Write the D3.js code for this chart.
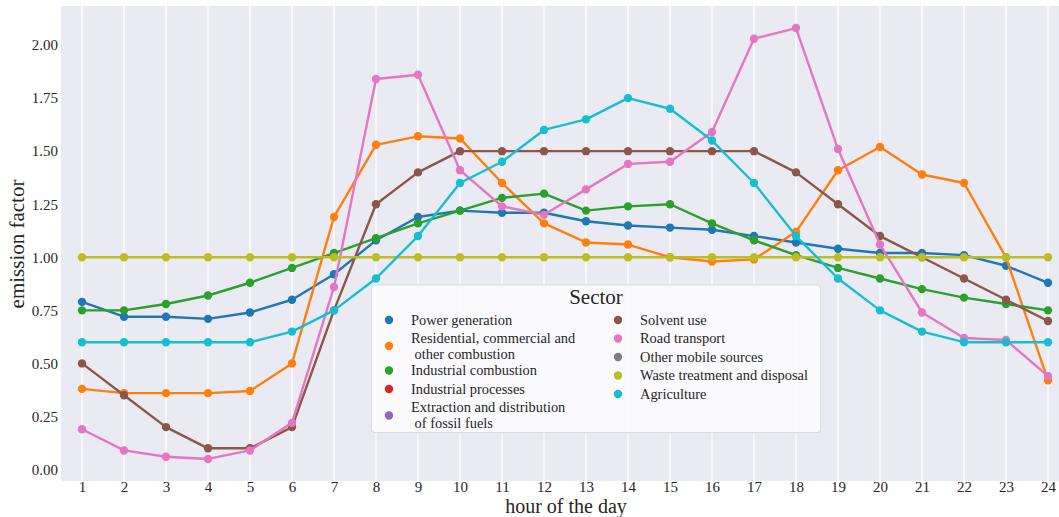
<!DOCTYPE html>
<html>
<head>
<meta charset="utf-8">
<script src="https://cdn.jsdelivr.net/npm/d3@7"></script>
<style>
  html, body { margin: 0; padding: 0; background: #ffffff; }
  svg text { font-family: "Liberation Serif", "DejaVu Serif", serif; fill: #262626; }
</style>
</head>
<body>
<svg id="chart" width="1059" height="517"></svg>
<script>
// Hourly emission factors per sector
const hours = d3.range(1, 25);

const powerGeneration = [0.79, 0.72, 0.72, 0.71, 0.74, 0.80, 0.92, 1.08, 1.19, 1.22, 1.21, 1.21,
                         1.17, 1.15, 1.14, 1.13, 1.10, 1.07, 1.04, 1.02, 1.02, 1.01, 0.96, 0.88];
const residential     = [0.38, 0.36, 0.36, 0.36, 0.37, 0.50, 1.19, 1.53, 1.57, 1.56, 1.35, 1.16,
                         1.07, 1.06, 1.00, 0.98, 0.99, 1.12, 1.41, 1.52, 1.39, 1.35, 1.00, 0.42];
const industrialComb  = [0.75, 0.75, 0.78, 0.82, 0.88, 0.95, 1.02, 1.09, 1.16, 1.22, 1.28, 1.30,
                         1.22, 1.24, 1.25, 1.16, 1.08, 1.01, 0.95, 0.90, 0.85, 0.81, 0.78, 0.75];
const solventUse      = [0.50, 0.35, 0.20, 0.10, 0.10, 0.20, 0.75, 1.25, 1.40, 1.50, 1.50, 1.50,
                         1.50, 1.50, 1.50, 1.50, 1.50, 1.40, 1.25, 1.10, 1.00, 0.90, 0.80, 0.70];
const roadTransport   = [0.19, 0.09, 0.06, 0.05, 0.09, 0.22, 0.86, 1.84, 1.86, 1.41, 1.24, 1.20,
                         1.32, 1.44, 1.45, 1.59, 2.03, 2.08, 1.51, 1.06, 0.74, 0.62, 0.61, 0.44];
const wasteTreatment  = [1.00, 1.00, 1.00, 1.00, 1.00, 1.00, 1.00, 1.00, 1.00, 1.00, 1.00, 1.00,
                         1.00, 1.00, 1.00, 1.00, 1.00, 1.00, 1.00, 1.00, 1.00, 1.00, 1.00, 1.00];
const agriculture     = [0.60, 0.60, 0.60, 0.60, 0.60, 0.65, 0.75, 0.90, 1.10, 1.35, 1.45, 1.60,
                         1.65, 1.75, 1.70, 1.55, 1.35, 1.10, 0.90, 0.75, 0.65, 0.60, 0.60, 0.60];

// Legend entries (sector label lines) in hue order
const sectorLabels = [
  ["Power generation"],
  ["Residential, commercial and", "\u00a0other combustion"],
  ["Industrial combustion"],
  ["Industrial processes"],
  ["Extraction and distribution", "\u00a0of fossil fuels"],
  ["Solvent use"],
  ["Road transport"],
  ["Other mobile sources"],
  ["Waste treatment and disposal"],
  ["Agriculture"]
];
const sectorColors = ["#1f77b4", "#ff7f0e", "#2ca02c", "#d62728", "#9467bd",
                      "#8c564b", "#e377c2", "#7f7f7f", "#bcbd22", "#17becf"];

// Sectors with hourly values, drawn in hue order
const seriesList = [
  { sector: 0, values: powerGeneration },
  { sector: 1, values: residential },
  { sector: 2, values: industrialComb },
  { sector: 5, values: solventUse },
  { sector: 6, values: roadTransport },
  { sector: 8, values: wasteTreatment },
  { sector: 9, values: agriculture }
];

const yTicks = [0, 0.25, 0.5, 0.75, 1.0, 1.25, 1.5, 1.75, 2.0];

const svg = d3.select("#chart");
const plot = { left: 61, top: 6, bottom: 481, right: 1069 };

const x = d3.scaleLinear().domain([0.5, 24.5]).range([plot.left, plot.right]);
const y = d3.scaleLinear().domain([-0.054, 2.184]).range([plot.bottom, plot.top]);

svg.append("defs").append("clipPath").attr("id", "plotClip")
  .append("rect").attr("x", plot.left).attr("y", plot.top)
  .attr("width", plot.right - plot.left).attr("height", plot.bottom - plot.top);

// Background
svg.append("rect")
  .attr("x", plot.left).attr("y", plot.top)
  .attr("width", plot.right - plot.left).attr("height", plot.bottom - plot.top)
  .attr("fill", "#eaeaf2");

// Vertical grid lines
svg.append("g").selectAll("line").data(hours).join("line")
  .attr("x1", d => x(d)).attr("x2", d => x(d))
  .attr("y1", plot.top).attr("y2", plot.bottom)
  .attr("stroke", "#ffffff").attr("stroke-width", 1.2);

// X axis
const xAxis = d3.axisBottom(x).tickValues(hours).tickFormat(d3.format("d")).tickSize(0).tickPadding(0);
const gx = svg.append("g").attr("transform", `translate(0,${plot.bottom})`).call(xAxis);
gx.select(".domain").remove();
gx.selectAll("text").attr("font-size", 15).attr("dy", null).attr("y", 10.5)
  .attr("font-family", "Liberation Serif").attr("fill", "#262626");

// Y axis
const yAxis = d3.axisLeft(y).tickValues(yTicks).tickFormat(d3.format(".2f")).tickSize(0).tickPadding(3);
const gy = svg.append("g").attr("transform", `translate(${plot.left},0)`).call(yAxis);
gy.select(".domain").remove();
gy.selectAll("text").attr("font-size", 15).attr("dy", "0.32em")
  .attr("font-family", "Liberation Serif").attr("fill", "#262626");

// Axis titles
svg.append("text")
  .attr("x", 566).attr("y", 512.5)
  .attr("text-anchor", "middle").attr("font-size", 20)
  .text("hour of the day");
svg.append("text")
  .attr("transform", "translate(24,244) rotate(-90)")
  .attr("text-anchor", "middle").attr("font-size", 21)
  .text("emission factor");

// Lines and markers
const line = d3.line().x((d, i) => x(hours[i])).y(d => y(d));
const gLines = svg.append("g").attr("clip-path", "url(#plotClip)");
seriesList.forEach(s => {
  const color = sectorColors[s.sector];
  const g = gLines.append("g");
  g.append("path").datum(s.values)
    .attr("d", line).attr("fill", "none")
    .attr("stroke", color).attr("stroke-width", 2.4)
    .attr("stroke-linejoin", "round");
  g.selectAll("circle").data(s.values).join("circle")
    .attr("cx", (d, i) => x(hours[i])).attr("cy", d => y(d))
    .attr("r", 4.2).attr("fill", color);
});

// Legend
const legend = svg.append("g");
legend.append("rect")
  .attr("x", 371.5).attr("y", 285).attr("width", 449).attr("height", 147.5)
  .attr("rx", 3).attr("fill", "#fbfbfd").attr("fill-opacity", 0.95)
  .attr("stroke", "#d9d9df").attr("stroke-width", 1);
legend.append("text")
  .attr("x", 596).attr("y", 304).attr("text-anchor", "middle")
  .attr("font-size", 21).text("Sector");

// Row anchors for legend entries: column marker x, text x, marker y
const legendRows = [
  { mx: 389, tx: 411, my: 320 },
  { mx: 389, tx: 411, my: 346 },
  { mx: 389, tx: 411, my: 370.5 },
  { mx: 389, tx: 411, my: 389 },
  { mx: 389, tx: 411, my: 415.5 },
  { mx: 618, tx: 640, my: 320 },
  { mx: 618, tx: 640, my: 338.5 },
  { mx: 618, tx: 640, my: 357 },
  { mx: 618, tx: 640, my: 375.5 },
  { mx: 618, tx: 640, my: 394 }
];
sectorLabels.forEach((lines, i) => {
  const r = legendRows[i];
  legend.append("circle").attr("cx", r.mx).attr("cy", r.my).attr("r", 4.2)
    .attr("fill", sectorColors[i]);
  const lh = 16;
  const y0 = r.my - (lines.length - 1) * lh / 2;
  // one text element per line keeps each line independently placed
  lines.forEach((ln, k) => {
    legend.append("text").attr("font-size", 14.4)
      .attr("x", r.tx).attr("y", y0 + k * lh).attr("dy", "0.32em").text(ln);
  });
});
</script>
</body>
</html>
